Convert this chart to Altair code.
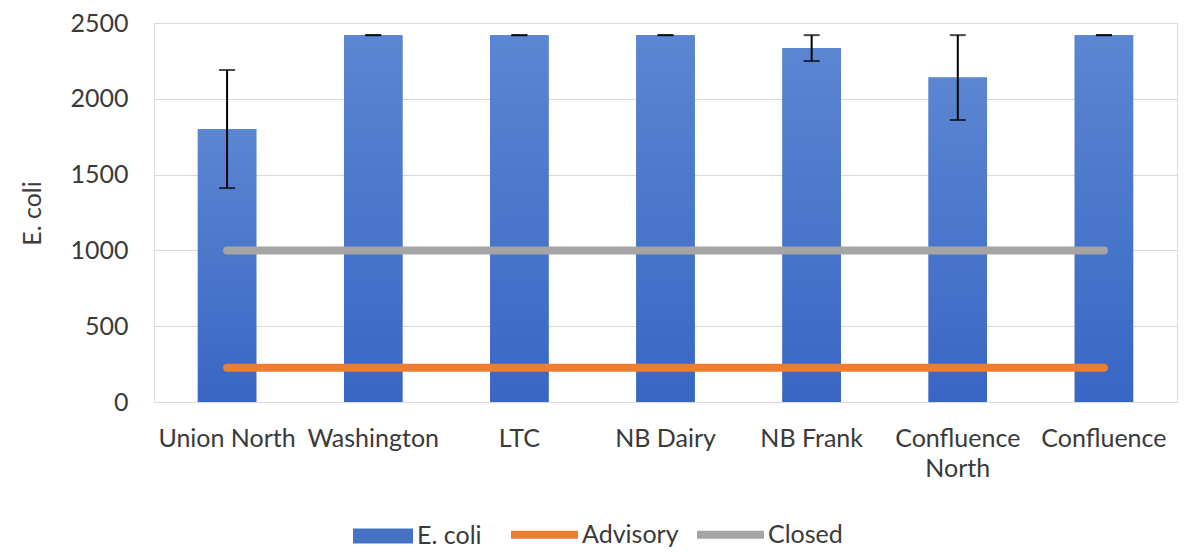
import altair as alt
import pandas as pd

sites = ["Union North", "Washington", "LTC", "NB Dairy", "NB Frank", "Confluence North", "Confluence"]
ecoli = [1800, 2420, 2420, 2420, 2335, 2140, 2420]
err_lo = [1411, 2420, 2420, 2420, 2249, 1860, 2420]
err_hi = [2190, 2420, 2420, 2420, 2420, 2420, 2420]
advisory = [226] * 7
closed = [1000] * 7
bar_series = ["E. coli"]
bar_colors = ["#4472c4"]
line_series = ["Advisory", "Closed"]
line_colors = ["#ed7d31", "#a5a5a5"]
y_ticks = [0, 500, 1000, 1500, 2000, 2500]

bars = pd.DataFrame({"site": sites, "value": ecoli, "lo": err_lo, "hi": err_hi,
                     "series": ["E. coli"] * len(sites)})
thr = pd.DataFrame({"site": sites * 2, "value": advisory + closed,
                    "series": ["Advisory"] * len(sites) + ["Closed"] * len(sites)})

FONT = "Lato"
TXT = "#3a3a3a"

xs = alt.Scale(domain=sites, paddingInner=0.6, paddingOuter=0.3)
ys = alt.Scale(domain=[0, 2500], nice=False)

xenc = alt.X("site:N", scale=xs, sort=sites,
             axis=alt.Axis(title=None, labelAngle=0, labelPadding=24, labelFontSize=25,
                           labelFont=FONT, labelColor=TXT, ticks=False, domain=False,
                           labelLineHeight=30, grid=False,
                           labelExpr="datum.label == 'Confluence North' ? ['Confluence', 'North'] : datum.label"))
yaxis = alt.Axis(values=y_ticks, format="d", title="E. coli", titleFont=FONT, titleFontSize=25,
                 titleFontWeight="normal", titleColor=TXT, titleAngle=270,
                 titleX=-122, titleY=190, titleBaseline="middle", titleAlign="center",
                 labelFont=FONT, labelFontSize=25, labelColor=TXT, labelPadding=26,
                 ticks=False, domain=False, grid=True, gridColor="#d9d9d9", gridWidth=1.2)

bar_legend = alt.Legend(title=None, orient="none", legendX=199, legendY=483, direction="horizontal",
                        symbolType="M-1,-0.25H1V0.25H-1Z",
                        symbolSize=3600, symbolStrokeWidth=0, symbolOpacity=1,
                        labelFont=FONT, labelFontSize=25, labelColor=TXT, labelOffset=4)
line_legend = alt.Legend(title=None, orient="none", legendX=353, legendY=474, direction="horizontal",
                         symbolType="stroke", symbolSize=4489, symbolStrokeWidth=8, symbolOpacity=1,
                         labelFont=FONT, labelFontSize=25, labelColor=TXT, labelOffset=0,
                         columnPadding=2)

grad = alt.Gradient(gradient="linear", x1=0, x2=0, y1=0, y2=1,
                    stops=[alt.GradientStop(offset=0, color="#5b86d2"),
                           alt.GradientStop(offset=1, color="#3966c4")])

base_bar = alt.Chart(bars).mark_bar().encode(
    x=xenc, y=alt.Y("value:Q", scale=ys, axis=yaxis),
    fill=alt.Fill("series:N", scale=alt.Scale(domain=bar_series, range=bar_colors), legend=bar_legend))
grad_bar = alt.Chart(bars).mark_bar(color=grad).encode(
    x=alt.X("site:N", scale=xs, sort=sites), y=alt.Y("value:Q", scale=ys))
rules = alt.Chart(bars).mark_rule(color="black", strokeWidth=2).encode(
    x=alt.X("site:N", scale=xs, sort=sites), y=alt.Y("lo:Q", scale=ys), y2="hi:Q")
cap_lo = alt.Chart(bars).mark_tick(color="black", orient="horizontal", size=16, thickness=2).encode(
    x=alt.X("site:N", scale=xs, sort=sites), y=alt.Y("lo:Q", scale=ys))
cap_hi = alt.Chart(bars).mark_tick(color="black", orient="horizontal", size=16, thickness=2).encode(
    x=alt.X("site:N", scale=xs, sort=sites), y=alt.Y("hi:Q", scale=ys))
lines = alt.Chart(thr).mark_line(strokeWidth=8, strokeCap="round").encode(
    x=alt.X("site:N", scale=xs, sort=sites), y=alt.Y("value:Q", scale=ys),
    stroke=alt.Stroke("series:N", scale=alt.Scale(domain=line_series, range=line_colors), legend=line_legend),
    detail="series:N")

chart = alt.layer(base_bar, grad_bar, lines, rules, cap_lo, cap_hi).properties(
    width=1023, height=379,
    autosize=alt.AutoSizeParams(type="none"),
    padding={"left": 146, "top": 15, "right": 10, "bottom": 150},
).resolve_scale(fill="independent", stroke="independent").configure_view(stroke=None).configure(background="white")

chart.save("out.html", embed_options={"renderer": "svg", "actions": False})
